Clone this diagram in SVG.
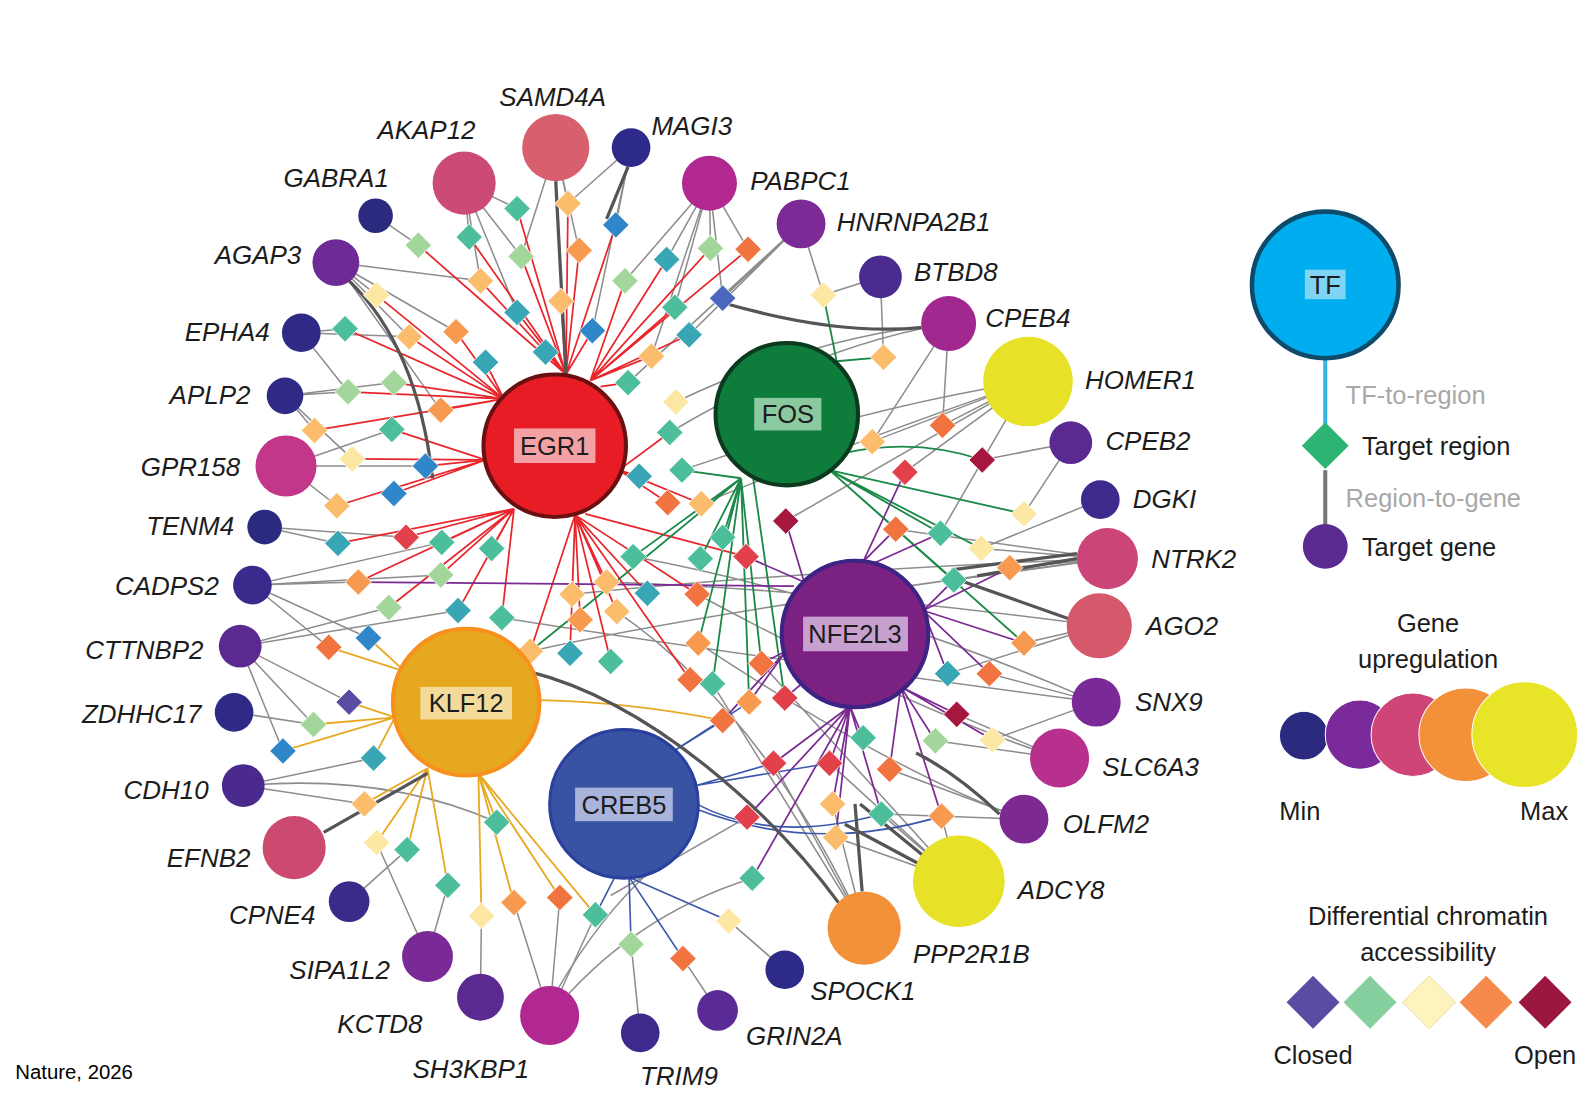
<svg xmlns="http://www.w3.org/2000/svg" xmlns:xlink="http://www.w3.org/1999/xlink" width="1596" height="1100" viewBox="0 0 1596 1100">
<style>
.gl{font-family:"Liberation Sans",Arial,sans-serif;font-style:italic;font-size:25.5px;fill:#1c1c1c}
.tl{font-family:"Liberation Sans",Arial,sans-serif;font-size:25px;fill:#1c1c1c;text-anchor:middle}
.lg{font-family:"Liberation Sans",Arial,sans-serif;font-size:25px;fill:#1c1c1c}
.lgg{font-family:"Liberation Sans",Arial,sans-serif;font-size:25px;fill:#a8a8a8}
.mid{text-anchor:middle}.end{text-anchor:end}
.red path{stroke:#e8262b;stroke-width:1.7;fill:none}
.grn path{stroke:#1b8a48;stroke-width:1.8;fill:none}
.pur path{stroke:#7b2a92;stroke-width:1.7;fill:none}
.yel path{stroke:#e7a923;stroke-width:1.8;fill:none}
.blu path{stroke:#3b57aa;stroke-width:1.6;fill:none}
.gry path{stroke:#8d8d8d;stroke-width:1.5;fill:none}
.drk path{stroke:#555;stroke-width:3.2;fill:none}
.cP{fill:#5a4ba3}.cB{fill:#2f86c8}.cT{fill:#38a6b5}.cG{fill:#4dbe9c}.cL{fill:#a3d69a}.cY{fill:#fce7a3}.cO{fill:#fbbd6b}.cR{fill:#f79a4f}.cD{fill:#f1733f}.cE{fill:#e2404b}.cM{fill:#a5173f}.cV{fill:#4b66bd}
#regions use{stroke:#ffffff;stroke-width:0.8}
</style>
<defs>
<polygon id="dm" points="0,-13 13,0 0,13 -13,0"/>
</defs>
<rect width="1596" height="1100" fill="#ffffff"/>
<g transform="scale(1.01786 1.01758)">
<g id="connectors">
<g class="gry">
<path d="M508,205L456,180M558,200L546,145M558,200L620,145M605,221L620,145M461,233L456,180M411,241L369,212M512,252L456,180M512,252L546,145M569,246L546,145M614,276L697,180M655,255L697,180M698,244L697,180M735,245L697,180M472,276L456,180M472,276L330,258M370,290L330,258M582,325L620,145M508,307L456,180M663,302L697,180M710,293L787,220M710,293L697,180M448,326L330,258M402,331L330,258M402,331L296,327M339,323L296,327M677,329L787,220M640,350L697,180M617,376L787,220"/>
<path d="M664,395Q800,330 932,318M433,403L330,258M387,376L280,389M342,385L280,389M342,385L296,327M309,423L280,389M385,422L281,458M346,451L280,389M418,458L281,458M331,497L281,458M658,425Q800,340 932,318M670,462Q850,400 1010,375M689,495Q850,430 1010,375"/>
<path d="M399,528L260,518M434,533L248,575M332,534L260,518M352,572L248,575M382,597L236,635M433,565L248,575M450,600L236,635M362,627L248,575M323,636L248,575M343,690L236,635M308,712L236,635M308,712L230,700M278,738L236,635M367,745L239,772M358,790L239,772M370,828L420,940M400,835L343,886M440,870L420,940M473,900L472,980M505,887L540,998M550,882L540,998M585,899L540,998M488,808Q380,760 239,772"/>
<path d="M620,928L629,1015M671,942L705,993M716,905L771,953M739,863Q620,900 540,998M734,803L600,880M760,750L849,912M815,750L942,866M818,790L849,912M821,823L942,866M866,800L942,866M866,800L1006,805M874,756L1006,805M925,802L942,866M919,728L1041,745M975,727L1077,690M940,702L1041,745M931,662L1080,615M972,662L1077,690M1006,632L1080,615M992,558L1088,549M964,539L1081,491M964,539L1088,549M937,570L1088,549M924,524L1010,375M880,520L1088,549M1006,505L1052,435M889,464L1010,375M926,418L932,318M926,418L1010,375M965,452L1052,435M857,434L1010,375M857,434L932,318M868,351L865,272M809,290L865,272M809,290L787,220M772,512L1010,375"/>
<path d="M562,584Q800,560 1088,549M596,572Q820,580 1080,615M622,547Q850,590 1077,690M521,640Q700,600 1088,549M685,584Q900,700 1041,745M686,632Q880,760 1006,805M700,672L849,912M748,652L942,866M606,601Q750,700 849,912M548,972Q590,900 640,855M493,607Q700,640 1077,690"/>
</g>
<g class="red">
<path d="M508,205L556,368M558,200L556,368M605,221L556,368M461,233L556,368M512,252L556,368M569,246L556,368M551,296L556,368M582,325L556,368M508,307L556,368M536,346L556,368M472,276L556,368M411,241L556,368"/>
<path d="M614,276L580,374M655,255L580,374M698,244L580,374M735,245L580,374M663,302L580,374M677,329L580,374M640,350L580,374M617,376L590,380"/>
<path d="M370,290L495,392M448,326L495,392M402,331L495,392M339,323L495,392M477,356L495,392M387,376L495,392M342,385L495,392M433,403L495,392M309,423L495,392"/>
<path d="M385,422L477,452M346,451L477,452M418,458L477,452M387,485L477,452M331,497L477,452"/>
<path d="M399,528L505,500M434,533L505,500M483,539L505,500M332,534L505,500M352,572L505,500M382,597L505,500M433,565L505,500M450,600L505,500M493,607L505,500"/>
<path d="M562,584L565,506M570,609L565,506M560,642L565,506M600,650L565,506M521,640L565,506M596,572L565,506M606,601L565,506M636,583L565,506M685,584L565,506M678,668L565,506M733,547L575,505"/>
<path d="M658,425L608,462M628,468L608,462M656,494L608,462M689,495L608,462"/>
</g>
<g class="grn">
<path d="M710,528L728,470M688,549L728,470M622,547L728,470M686,632L728,470M700,672L728,470M748,652L728,470M736,690L728,470M771,686L740,470M670,462L728,470M521,640Q620,560 728,470"/>
<path d="M880,520L815,462M924,524L815,462M937,570L815,462M964,539L815,462M1006,505L815,462M1006,632L815,462M965,452Q900,430 830,445"/>
<path d="M868,351L822,355M809,290L822,355"/>
</g>
<g class="pur">
<path d="M772,512L790,572M733,547L790,572M352,572L780,576"/>
<path d="M889,464L848,552M880,520L848,552M924,524L855,555"/>
<path d="M937,570L907,600M992,558L907,600M1006,632L907,600M972,662L907,600M931,662L907,600"/>
<path d="M940,702L885,675M975,727L885,675M919,728L885,675M874,756L885,675M925,802L885,675"/>
<path d="M848,725L835,694M866,800L835,694M821,823L835,694M818,790L835,694M815,750L835,694M760,750L835,694M734,803L835,694M739,863L835,694"/>
<path d="M748,652L772,640M736,690L772,640M710,708L772,640M771,686L790,670"/>
</g>
<g class="yel">
<path d="M362,627L398,660M323,636L398,660M343,690L388,705M308,712L388,705M278,738L388,705M367,745L388,705M358,790L420,755M370,828L420,755M400,835L420,755M440,870L420,755M473,900L470,760M505,887L470,760M550,882L470,760M585,899L470,760M488,808L470,760M710,708Q620,690 530,688"/>
</g>
<g class="blu">
<path d="M620,928L618,862M671,942L618,862M716,905L618,862M585,899L605,860M760,750L684,772M815,750L684,772M866,800Q760,830 684,790M925,802Q800,840 684,795M710,708L662,738M736,690L662,738"/>
</g>
<g class="drk">
<path d="M546,178L556,368M617,164L596,215M342,275Q410,340 425,470M905,322Q820,330 705,296M318,818L420,760M826,890C760,800 640,690 520,660M847,876L840,790M1050,608L942,570M1058,549L960,566M1058,544L935,560M912,845L845,790M905,850L830,810M982,800Q940,760 900,740"/>
</g>
</g>
<g id="regions">
<g id="r1"><use href="#dm" x="508" y="205" class="cG"/></g>
<g id="r2"><use href="#dm" x="558" y="200" class="cO"/></g>
<g id="r3"><use href="#dm" x="605" y="221" class="cB"/></g>
<g id="r4"><use href="#dm" x="461" y="233" class="cG"/></g>
<g id="r5"><use href="#dm" x="411" y="241" class="cL"/></g>
<g id="r6"><use href="#dm" x="512" y="252" class="cL"/></g>
<g id="r7"><use href="#dm" x="569" y="246" class="cR"/></g>
<g id="r8"><use href="#dm" x="614" y="276" class="cL"/></g>
<g id="r9"><use href="#dm" x="655" y="255" class="cT"/></g>
<g id="r10"><use href="#dm" x="698" y="244" class="cL"/></g>
<g id="r11"><use href="#dm" x="735" y="245" class="cD"/></g>
<g id="r12"><use href="#dm" x="472" y="276" class="cO"/></g>
<g id="r13"><use href="#dm" x="370" y="290" class="cY"/></g>
<g id="r14"><use href="#dm" x="551" y="296" class="cO"/></g>
<g id="r15"><use href="#dm" x="582" y="325" class="cB"/></g>
<g id="r16"><use href="#dm" x="508" y="307" class="cT"/></g>
<g id="r17"><use href="#dm" x="663" y="302" class="cG"/></g>
<g id="r18"><use href="#dm" x="710" y="293" class="cV"/></g>
<g id="r19"><use href="#dm" x="448" y="326" class="cR"/></g>
<g id="r20"><use href="#dm" x="402" y="331" class="cO"/></g>
<g id="r21"><use href="#dm" x="339" y="323" class="cG"/></g>
<g id="r22"><use href="#dm" x="536" y="346" class="cT"/></g>
<g id="r23"><use href="#dm" x="477" y="356" class="cT"/></g>
<g id="r24"><use href="#dm" x="677" y="329" class="cT"/></g>
<g id="r25"><use href="#dm" x="640" y="350" class="cO"/></g>
<g id="r26"><use href="#dm" x="617" y="376" class="cG"/></g>
<g id="r27"><use href="#dm" x="664" y="395" class="cY"/></g>
<g id="r28"><use href="#dm" x="433" y="403" class="cR"/></g>
<g id="r29"><use href="#dm" x="387" y="376" class="cL"/></g>
<g id="r30"><use href="#dm" x="342" y="385" class="cL"/></g>
<g id="r31"><use href="#dm" x="309" y="423" class="cO"/></g>
<g id="r32"><use href="#dm" x="385" y="422" class="cG"/></g>
<g id="r33"><use href="#dm" x="346" y="451" class="cY"/></g>
<g id="r34"><use href="#dm" x="418" y="458" class="cB"/></g>
<g id="r35"><use href="#dm" x="387" y="485" class="cB"/></g>
<g id="r36"><use href="#dm" x="331" y="497" class="cO"/></g>
<g id="r37"><use href="#dm" x="658" y="425" class="cG"/></g>
<g id="r38"><use href="#dm" x="670" y="462" class="cG"/></g>
<g id="r39"><use href="#dm" x="656" y="494" class="cD"/></g>
<g id="r40"><use href="#dm" x="689" y="495" class="cO"/></g>
<g id="r41"><use href="#dm" x="628" y="468" class="cT"/></g>
<g id="r42"><use href="#dm" x="399" y="528" class="cE"/></g>
<g id="r43"><use href="#dm" x="434" y="533" class="cG"/></g>
<g id="r44"><use href="#dm" x="483" y="539" class="cG"/></g>
<g id="r45"><use href="#dm" x="332" y="534" class="cT"/></g>
<g id="r46"><use href="#dm" x="352" y="572" class="cR"/></g>
<g id="r47"><use href="#dm" x="382" y="597" class="cL"/></g>
<g id="r48"><use href="#dm" x="433" y="565" class="cL"/></g>
<g id="r49"><use href="#dm" x="450" y="600" class="cT"/></g>
<g id="r50"><use href="#dm" x="493" y="607" class="cG"/></g>
<g id="r51"><use href="#dm" x="362" y="627" class="cB"/></g>
<g id="r52"><use href="#dm" x="323" y="636" class="cD"/></g>
<g id="r53"><use href="#dm" x="343" y="690" class="cP"/></g>
<g id="r54"><use href="#dm" x="308" y="712" class="cL"/></g>
<g id="r55"><use href="#dm" x="278" y="738" class="cB"/></g>
<g id="r56"><use href="#dm" x="367" y="745" class="cT"/></g>
<g id="r57"><use href="#dm" x="358" y="790" class="cO"/></g>
<g id="r58"><use href="#dm" x="370" y="828" class="cY"/></g>
<g id="r59"><use href="#dm" x="400" y="835" class="cG"/></g>
<g id="r60"><use href="#dm" x="440" y="870" class="cG"/></g>
<g id="r61"><use href="#dm" x="473" y="900" class="cY"/></g>
<g id="r62"><use href="#dm" x="505" y="887" class="cR"/></g>
<g id="r63"><use href="#dm" x="550" y="882" class="cD"/></g>
<g id="r64"><use href="#dm" x="585" y="899" class="cG"/></g>
<g id="r65"><use href="#dm" x="488" y="808" class="cG"/></g>
<g id="r66"><use href="#dm" x="620" y="928" class="cL"/></g>
<g id="r67"><use href="#dm" x="671" y="942" class="cD"/></g>
<g id="r68"><use href="#dm" x="716" y="905" class="cY"/></g>
<g id="r69"><use href="#dm" x="739" y="863" class="cG"/></g>
<g id="r70"><use href="#dm" x="734" y="803" class="cE"/></g>
<g id="r71"><use href="#dm" x="760" y="750" class="cE"/></g>
<g id="r72"><use href="#dm" x="815" y="750" class="cE"/></g>
<g id="r73"><use href="#dm" x="818" y="790" class="cO"/></g>
<g id="r74"><use href="#dm" x="821" y="823" class="cO"/></g>
<g id="r75"><use href="#dm" x="866" y="800" class="cG"/></g>
<g id="r76"><use href="#dm" x="848" y="725" class="cG"/></g>
<g id="r77"><use href="#dm" x="874" y="756" class="cD"/></g>
<g id="r78"><use href="#dm" x="925" y="802" class="cR"/></g>
<g id="r79"><use href="#dm" x="919" y="728" class="cL"/></g>
<g id="r80"><use href="#dm" x="975" y="727" class="cY"/></g>
<g id="r81"><use href="#dm" x="940" y="702" class="cM"/></g>
<g id="r82"><use href="#dm" x="931" y="662" class="cT"/></g>
<g id="r83"><use href="#dm" x="972" y="662" class="cD"/></g>
<g id="r84"><use href="#dm" x="1006" y="632" class="cR"/></g>
<g id="r85"><use href="#dm" x="992" y="558" class="cR"/></g>
<g id="r86"><use href="#dm" x="964" y="539" class="cY"/></g>
<g id="r87"><use href="#dm" x="937" y="570" class="cG"/></g>
<g id="r88"><use href="#dm" x="924" y="524" class="cG"/></g>
<g id="r89"><use href="#dm" x="880" y="520" class="cD"/></g>
<g id="r90"><use href="#dm" x="1006" y="505" class="cY"/></g>
<g id="r91"><use href="#dm" x="889" y="464" class="cE"/></g>
<g id="r92"><use href="#dm" x="926" y="418" class="cD"/></g>
<g id="r93"><use href="#dm" x="965" y="452" class="cM"/></g>
<g id="r94"><use href="#dm" x="857" y="434" class="cO"/></g>
<g id="r95"><use href="#dm" x="868" y="351" class="cO"/></g>
<g id="r96"><use href="#dm" x="809" y="290" class="cY"/></g>
<g id="r97"><use href="#dm" x="772" y="512" class="cM"/></g>
<g id="r98"><use href="#dm" x="733" y="547" class="cE"/></g>
<g id="r99"><use href="#dm" x="710" y="528" class="cG"/></g>
<g id="r100"><use href="#dm" x="688" y="549" class="cG"/></g>
<g id="r101"><use href="#dm" x="685" y="584" class="cD"/></g>
<g id="r102"><use href="#dm" x="622" y="547" class="cG"/></g>
<g id="r103"><use href="#dm" x="596" y="572" class="cO"/></g>
<g id="r104"><use href="#dm" x="636" y="583" class="cT"/></g>
<g id="r105"><use href="#dm" x="562" y="584" class="cO"/></g>
<g id="r106"><use href="#dm" x="570" y="609" class="cR"/></g>
<g id="r107"><use href="#dm" x="606" y="601" class="cO"/></g>
<g id="r108"><use href="#dm" x="560" y="642" class="cT"/></g>
<g id="r109"><use href="#dm" x="600" y="650" class="cG"/></g>
<g id="r110"><use href="#dm" x="521" y="640" class="cO"/></g>
<g id="r111"><use href="#dm" x="686" y="632" class="cR"/></g>
<g id="r112"><use href="#dm" x="700" y="672" class="cG"/></g>
<g id="r113"><use href="#dm" x="678" y="668" class="cD"/></g>
<g id="r114"><use href="#dm" x="748" y="652" class="cD"/></g>
<g id="r115"><use href="#dm" x="710" y="708" class="cD"/></g>
<g id="r116"><use href="#dm" x="736" y="690" class="cR"/></g>
<g id="r117"><use href="#dm" x="771" y="686" class="cE"/></g>
</g>
<g id="genes">
<g id="SAMD4A"><circle cx="546" cy="145" r="33" fill="#d85f6e"/><text class="gl mid" x="543" y="104">SAMD4A</text></g>
<g id="MAGI3"><circle cx="620" cy="145" r="19" fill="#2e2a8a"/><text class="gl" x="640" y="133">MAGI3</text></g>
<g id="AKAP12"><circle cx="456" cy="180" r="31" fill="#cc4a78"/><text class="gl mid" x="419" y="137">AKAP12</text></g>
<g id="PABPC1"><circle cx="697" cy="180" r="27" fill="#b02890"/><text class="gl" x="737" y="187">PABPC1</text></g>
<g id="GABRA1"><circle cx="369" cy="212" r="17" fill="#2b2a7e"/><text class="gl end" x="382" y="184">GABRA1</text></g>
<g id="HNRNPA2B1"><circle cx="787" cy="220" r="24" fill="#7b2a96"/><text class="gl" x="822" y="227">HNRNPA2B1</text></g>
<g id="AGAP3"><circle cx="330" cy="258" r="23" fill="#6e2b96"/><text class="gl end" x="296" y="259">AGAP3</text></g>
<g id="BTBD8"><circle cx="865" cy="272" r="21" fill="#4a2b8f"/><text class="gl" x="898" y="276">BTBD8</text></g>
<g id="EPHA4"><circle cx="296" cy="327" r="19" fill="#2e2a86"/><text class="gl end" x="265" y="335">EPHA4</text></g>
<g id="CPEB4"><circle cx="932" cy="318" r="27" fill="#a0288f"/><text class="gl" x="968" y="321">CPEB4</text></g>
<g id="HOMER1"><circle cx="1010" cy="375" r="44" fill="#e7e128"/><text class="gl" x="1066" y="382">HOMER1</text></g>
<g id="APLP2"><circle cx="280" cy="389" r="18" fill="#2e2a86"/><text class="gl end" x="246" y="397">APLP2</text></g>
<g id="CPEB2"><circle cx="1052" cy="435" r="21" fill="#5a2a90"/><text class="gl" x="1086" y="442">CPEB2</text></g>
<g id="GPR158"><circle cx="281" cy="458" r="30" fill="#c2378a"/><text class="gl end" x="236" y="468">GPR158</text></g>
<g id="DGKI"><circle cx="1081" cy="491" r="19" fill="#3e2a8c"/><text class="gl" x="1113" y="499">DGKI</text></g>
<g id="TENM4"><circle cx="260" cy="518" r="17" fill="#2a2a7e"/><text class="gl end" x="230" y="526">TENM4</text></g>
<g id="NTRK2"><circle cx="1088" cy="549" r="30" fill="#cc4578"/><text class="gl" x="1131" y="558">NTRK2</text></g>
<g id="CADPS2"><circle cx="248" cy="575" r="19" fill="#3a2a8c"/><text class="gl end" x="215" y="585">CADPS2</text></g>
<g id="AGO2"><circle cx="1080" cy="615" r="32" fill="#d6596b"/><text class="gl" x="1126" y="624">AGO2</text></g>
<g id="CTTNBP2"><circle cx="236" cy="635" r="21" fill="#5a2a90"/><text class="gl end" x="200" y="648">CTTNBP2</text></g>
<g id="SNX9"><circle cx="1077" cy="690" r="24" fill="#7a2a96"/><text class="gl" x="1115" y="699">SNX9</text></g>
<g id="ZDHHC17"><circle cx="230" cy="700" r="19" fill="#2e2a86"/><text class="gl end" x="198" y="711">ZDHHC17</text></g>
<g id="SLC6A3"><circle cx="1041" cy="745" r="29" fill="#b8308e"/><text class="gl" x="1083" y="763">SLC6A3</text></g>
<g id="CDH10"><circle cx="239" cy="772" r="21" fill="#4a2a8c"/><text class="gl end" x="205" y="785">CDH10</text></g>
<g id="OLFM2"><circle cx="1006" cy="805" r="24" fill="#7c2a92"/><text class="gl" x="1044" y="819">OLFM2</text></g>
<g id="EFNB2"><circle cx="289" cy="833" r="31" fill="#cc4a70"/><text class="gl end" x="246" y="852">EFNB2</text></g>
<g id="ADCY8"><circle cx="942" cy="866" r="45" fill="#e7e128"/><text class="gl" x="1000" y="883">ADCY8</text></g>
<g id="CPNE4"><circle cx="343" cy="886" r="20" fill="#3a2a8a"/><text class="gl end" x="310" y="908">CPNE4</text></g>
<g id="PPP2R1B"><circle cx="849" cy="912" r="36" fill="#f3913a"/><text class="gl" x="897" y="946">PPP2R1B</text></g>
<g id="SIPA1L2"><circle cx="420" cy="940" r="25" fill="#7a2a96"/><text class="gl end" x="383" y="962">SIPA1L2</text></g>
<g id="SPOCK1"><circle cx="771" cy="953" r="19" fill="#2e2a8a"/><text class="gl" x="796" y="983">SPOCK1</text></g>
<g id="KCTD8"><circle cx="472" cy="980" r="23" fill="#5a2a90"/><text class="gl end" x="415" y="1015">KCTD8</text></g>
<g id="GRIN2A"><circle cx="705" cy="993" r="20" fill="#5a2a96"/><text class="gl" x="733" y="1027">GRIN2A</text></g>
<g id="SH3KBP1"><circle cx="540" cy="998" r="29" fill="#b02890"/><text class="gl end" x="520" y="1059">SH3KBP1</text></g>
<g id="TRIM9"><circle cx="629" cy="1015" r="19" fill="#3e2a8c"/><text class="gl mid" x="667" y="1066">TRIM9</text></g>
</g>
<g id="tfs">
<g id="EGR1"><circle cx="545" cy="438" r="70" fill="#e81c24" stroke="#6a1010" stroke-width="4"/><rect x="505" y="421" width="80" height="34" fill="#f4a1a6"/><text class="tl" x="545" y="447">EGR1</text></g>
<g id="FOS"><circle cx="773" cy="407" r="70" fill="#0e7d3c" stroke="#0c3a1f" stroke-width="4"/><rect x="741" y="391" width="66" height="32" fill="#8bc9a0"/><text class="tl" x="774" y="416">FOS</text></g>
<g id="NFE2L3"><circle cx="840" cy="623" r="72" fill="#7a2181" stroke="#3d2383" stroke-width="4"/><rect x="789" y="606" width="103" height="34" fill="#c7a0cf"/><text class="tl" x="840" y="632">NFE2L3</text></g>
<g id="KLF12"><circle cx="458" cy="690" r="72" fill="#e6a81f" stroke="#f7901e" stroke-width="4"/><rect x="413" y="675" width="90" height="32" fill="#f3da98"/><text class="tl" x="458" y="700">KLF12</text></g>
<g id="CREB5"><circle cx="613" cy="790" r="73" fill="#3953a4" stroke="#2b3f9c" stroke-width="3"/><rect x="565" y="774" width="96" height="33" fill="#a8b4dc"/><text class="tl" x="613" y="800">CREB5</text></g>
</g>
<g id="legend">
<path d="M1302,354V418" stroke="#33b5e8" stroke-width="4"/>
<path d="M1302,462V516" stroke="#777777" stroke-width="4"/>
<g id="legend-tf"><circle cx="1302" cy="280" r="72" fill="#00aeef" stroke="#0e4a6a" stroke-width="4.5"/><rect x="1282" y="265" width="40" height="29" fill="#7fd3f5"/><text class="tl" x="1302" y="289">TF</text></g>
<text class="lgg" x="1322" y="397">TF-to-region</text>
<g id="legend-region"><polygon points="1302,415 1325,438 1302,461 1279,438" fill="#2db474"/><text class="lg" x="1338" y="447">Target region</text></g>
<text class="lgg" x="1322" y="498">Region-to-gene</text>
<g id="legend-gene"><circle cx="1302" cy="537" r="22" fill="#5b2a90"/><text class="lg" x="1338" y="546">Target gene</text></g>
<text class="lg mid" x="1403" y="621">Gene</text>
<text class="lg mid" x="1403" y="656">upregulation</text>
<g stroke="#ffffff" stroke-width="1">
<circle cx="1281" cy="723" r="24" fill="#2b2a7e"/>
<circle cx="1336" cy="722" r="34" fill="#7a2a9a"/>
<circle cx="1388" cy="722" r="41" fill="#d04577"/>
<circle cx="1440" cy="722" r="46" fill="#f3913a"/>
<circle cx="1498" cy="722" r="52" fill="#e8e427"/>
</g>
<text class="lg mid" x="1277" y="806">Min</text>
<text class="lg mid" x="1517" y="806">Max</text>
<text class="lg mid" x="1403" y="909">Differential chromatin</text>
<text class="lg mid" x="1403" y="944">accessibility</text>
<polygon points="1290,959 1316,985 1290,1011 1264,985" fill="#5a4ba3"/>
<polygon points="1346,959 1372,985 1346,1011 1320,985" fill="#86cf9e"/>
<polygon points="1404,959 1430,985 1404,1011 1378,985" fill="#fdf4bd" stroke="#ece3b5" stroke-width="1"/>
<polygon points="1460,959 1486,985 1460,1011 1434,985" fill="#f58a4c"/>
<polygon points="1518,959 1544,985 1518,1011 1492,985" fill="#9c1740"/>
<text class="lg mid" x="1290" y="1046">Closed</text>
<text class="lg mid" x="1518" y="1046">Open</text>
</g>
<text x="15" y="1060" font-family="'Liberation Sans',Arial,sans-serif" font-size="20" fill="#000">Nature, 2026</text>
</g>
</svg>
